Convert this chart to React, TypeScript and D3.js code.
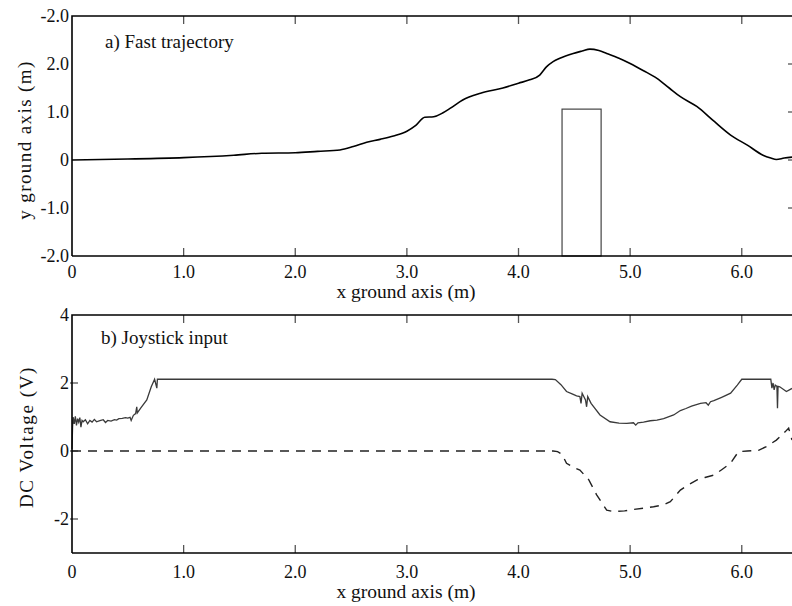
import React from "react";
import * as d3 from "d3";

const trajX = [0, 0.5, 1.0, 1.45, 1.7, 2.0, 2.2, 2.4, 2.52, 2.64, 2.76, 2.88, 3.0, 3.08, 3.16, 3.24, 3.32, 3.39, 3.5, 3.66, 3.86, 4.0, 4.1, 4.19, 4.25, 4.31, 4.37, 4.49, 4.57, 4.64, 4.72, 4.79, 4.9, 5.0, 5.12, 5.24, 5.35, 5.45, 5.6, 5.74, 5.9, 6.05, 6.19, 6.26, 6.31, 6.38, 6.45];
const trajY = [0, 0.02, 0.05, 0.1, 0.14, 0.15, 0.18, 0.21, 0.28, 0.37, 0.43, 0.5, 0.6, 0.72, 0.89, 0.9, 0.98, 1.08, 1.25, 1.39, 1.5, 1.6, 1.67, 1.77, 1.94, 2.05, 2.12, 2.22, 2.27, 2.31, 2.28, 2.22, 2.12, 2.01, 1.86, 1.7, 1.5, 1.32, 1.11, 0.83, 0.52, 0.31, 0.1, 0.04, 0.01, 0.04, 0.06];

const obstacleX = [4.39, 4.74];
const obstacleTop = 1.06;

const joyX = [0, 0.005, 0.01, 0.02, 0.03, 0.04, 0.05, 0.06, 0.07, 0.08, 0.09, 0.1, 0.12, 0.14, 0.16, 0.18, 0.2, 0.22, 0.25, 0.28, 0.3, 0.32, 0.35, 0.38, 0.4, 0.42, 0.45, 0.48, 0.5, 0.52, 0.53, 0.55, 0.57, 0.58, 0.585, 0.62, 0.67, 0.71, 0.74, 0.76, 0.765, 4.3, 4.33, 4.38, 4.43, 4.48, 4.52, 4.55, 4.56, 4.57, 4.6, 4.61, 4.62, 4.65, 4.73, 4.82, 4.9, 4.97, 5.03, 5.05, 5.07, 5.12, 5.18, 5.24, 5.3, 5.39, 5.45, 5.5, 5.55, 5.63, 5.68, 5.7, 5.72, 5.75, 5.82, 5.9, 5.96, 6.0, 6.26, 6.27, 6.28, 6.29, 6.3, 6.315, 6.32, 6.325, 6.34, 6.4, 6.45];
const joyForward = [0.05, 0.7, 1.0, 0.8, 1.02, 0.75, 0.95, 0.85, 0.98, 0.7, 0.9, 0.86, 0.92, 0.8, 0.9, 0.85, 0.93, 0.86, 0.89, 0.92, 0.84, 0.9, 0.88, 0.92, 0.91, 0.95, 0.96, 0.98, 0.97, 0.99, 0.9, 1.05, 1.1, 1.3, 1.12, 1.28, 1.5, 1.89, 2.11, 1.85, 2.11, 2.11, 2.1, 1.95, 1.75, 1.68, 1.62, 1.6, 1.4, 1.7, 1.5, 1.3, 1.6, 1.4, 1.06, 0.86, 0.82, 0.81, 0.83, 0.76, 0.83, 0.85, 0.89, 0.91, 0.95, 1.06, 1.19, 1.25, 1.32, 1.4, 1.42, 1.35, 1.45, 1.48, 1.58, 1.7, 1.94, 2.11, 2.11, 1.85, 2.0, 1.8, 1.94, 1.9, 1.26, 1.9, 1.89, 1.75, 1.84];

const turnX = [0, 4.31, 4.35, 4.39, 4.43, 4.49, 4.55, 4.63, 4.7, 4.79, 4.85, 4.95, 5.03, 5.12, 5.21, 5.3, 5.36, 5.45, 5.52, 5.6, 5.67, 5.75, 5.82, 5.9, 5.97, 6.05, 6.15, 6.22, 6.31, 6.39, 6.42, 6.45];
const joyTurn = [0, 0, -0.02, -0.1, -0.36, -0.48, -0.56, -0.85, -1.29, -1.74, -1.78, -1.76, -1.72, -1.68, -1.64, -1.58, -1.49, -1.15, -1.0, -0.85, -0.78, -0.71, -0.55, -0.36, -0.02, 0, 0.02, 0.13, 0.32, 0.57, 0.67, 0.32];

const xTicks = [0, 1, 2, 3, 4, 5, 6];
const xTickLabels = ["0", "1.0", "2.0", "3.0", "4.0", "5.0", "6.0"];
const yTopTicks = [3, 2, 1, 0, -1, -2];
const yTopLabels = ["-2.0", "2.0", "1.0", "0", "-1.0", "-2.0"];
const yBotTicks = [4, 2, 0, -2];
const yBotLabels = ["4", "2", "0", "-2"];

const FONT = "'Liberation Serif', 'Times New Roman', serif";

export default function App() {
  const left = 72, right = 792;
  const x = d3.scaleLinear().domain([0, 6.45]).range([left, right]);
  const yTop = d3.scaleLinear().domain([-2, 3]).range([256, 16]);
  const yBot = d3.scaleLinear().domain([-3, 4]).range([553, 315]);

  const trajLine = d3.line<number>().x((_, i) => x(trajX[i])).y((d) => yTop(d)).curve(d3.curveMonotoneX);
  const fwdLine = d3.line<number>().x((_, i) => x(joyX[i])).y((d) => yBot(d));
  const turnLine = d3.line<number>().x((_, i) => x(turnX[i])).y((d) => yBot(d));

  const tickColor = "#555";
  const tickFs = 18;

  return (
    <svg width={792} height={606} style={{ position: "absolute", left: 0, top: 0, background: "#fff" }} fontFamily={FONT}>
      <rect x={0} y={0} width={792} height={606} fill="#fff" />
      {/* ===== Top panel ===== */}
      <g>
        {xTicks.map((t, i) => (
          <g key={"tt" + i}>
            {i > 0 && <line x1={x(t)} x2={x(t)} y1={yTop(3)} y2={yTop(3) + 8} stroke={tickColor} strokeWidth={1.3} />}
            {i > 0 && <line x1={x(t)} x2={x(t)} y1={yTop(-2)} y2={yTop(-2) - 8} stroke={tickColor} strokeWidth={1.3} />}
            <text x={x(t)} y={yTop(-2) + 22} fontSize={tickFs} textAnchor="middle" fill="#111">{xTickLabels[i]}</text>
          </g>
        ))}
        {yTopTicks.map((t, i) => (
          <g key={"ty" + i}>
            {i > 0 && i < yTopTicks.length - 1 && (
              <line x1={right} x2={right - 4} y1={yTop(t)} y2={yTop(t)} stroke={tickColor} strokeWidth={1.3} />
            )}
            <text x={left - 3} y={yTop(t) + 6} fontSize={tickFs} textAnchor="end" fill="#111">{yTopLabels[i]}</text>
          </g>
        ))}
        <rect x={x(obstacleX[0])} y={yTop(obstacleTop)} width={x(obstacleX[1]) - x(obstacleX[0])} height={yTop(-2) - yTop(obstacleTop)} fill="none" stroke="#444" strokeWidth={1.2} />
        <path d={trajLine(trajY) || ""} fill="none" stroke="#000" strokeWidth={1.6} />
        <path d={`M${left},${yTop(-2)} V${yTop(3)} H${right}`} fill="none" stroke="#000" strokeWidth={1.6} />
        <line x1={left} x2={right} y1={yTop(-2)} y2={yTop(-2)} stroke="#000" strokeWidth={1.6} />
        <text x={105} y={48} fontSize={19} fill="#111">a) Fast trajectory</text>
        <text x={406} y={298} fontSize={19.5} textAnchor="middle" fill="#111">x ground axis (m)</text>
        <text transform={`translate(31,140) rotate(-90)`} fontSize={19} textAnchor="middle" letterSpacing={1.4} fill="#111">y ground axis (m)</text>
      </g>
      {/* ===== Bottom panel ===== */}
      <g>
        {xTicks.map((t, i) => (
          <g key={"bt" + i}>
            {i > 0 && <line x1={x(t)} x2={x(t)} y1={yBot(4)} y2={yBot(4) + 8} stroke={tickColor} strokeWidth={1.3} />}
            {i > 0 && <line x1={x(t)} x2={x(t)} y1={yBot(-3)} y2={yBot(-3) - 8} stroke={tickColor} strokeWidth={1.3} />}
            <text x={x(t)} y={yBot(-3) + 25} fontSize={tickFs} textAnchor="middle" fill="#111">{xTickLabels[i]}</text>
          </g>
        ))}
        {yBotTicks.map((t, i) => (
          <g key={"by" + i}>
            {i > 0 && <line x1={left - 2} x2={left + 6} y1={yBot(t)} y2={yBot(t)} stroke={tickColor} strokeWidth={1.3} />}
            <text x={left - 3} y={yBot(t) + 6} fontSize={tickFs} textAnchor="end" fill="#111">{yBotLabels[i]}</text>
          </g>
        ))}
        <path d={turnLine(joyTurn) || ""} fill="none" stroke="#222" strokeWidth={1.4} strokeDasharray="9,7" />
        <path d={fwdLine(joyForward) || ""} fill="none" stroke="#3a3a3a" strokeWidth={1.3} />
        <path d={`M${left},${yBot(-3)} V${yBot(4)} H${right}`} fill="none" stroke="#000" strokeWidth={1.6} />
        <line x1={left} x2={right} y1={yBot(-3)} y2={yBot(-3)} stroke="#000" strokeWidth={1.6} />
        <text x={101} y={344} fontSize={19} fill="#111">b) Joystick input</text>
        <text x={406} y={598} fontSize={19.5} textAnchor="middle" fill="#111">x ground axis (m)</text>
        <text transform={`translate(33,437) rotate(-90)`} fontSize={19} textAnchor="middle" letterSpacing={1.6} fill="#111">DC Voltage (V)</text>
      </g>
    </svg>
  );
}
